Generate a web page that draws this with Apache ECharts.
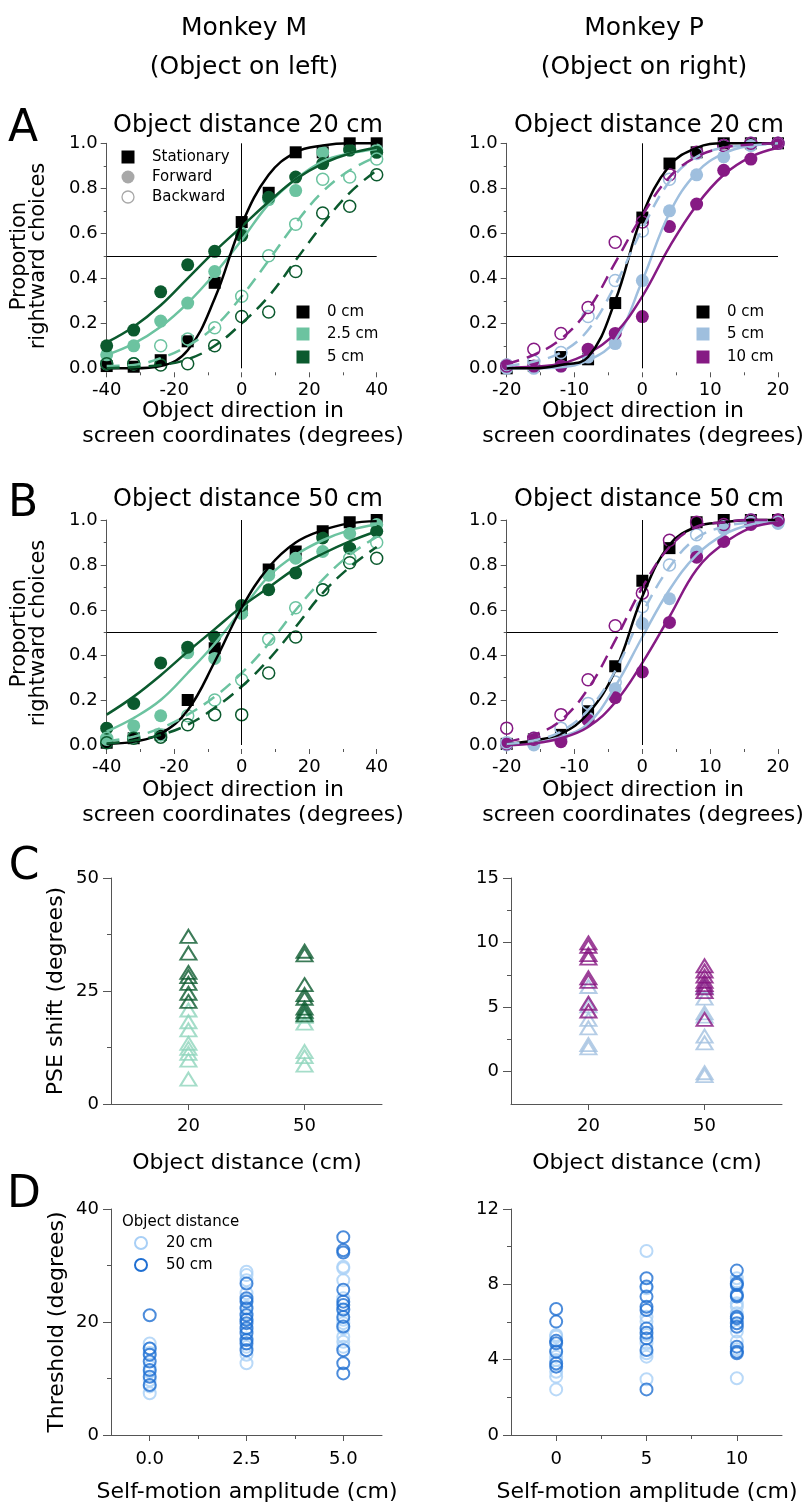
<!DOCTYPE html>
<html><head><meta charset="utf-8">
<script src="https://cdn.jsdelivr.net/npm/echarts@6/dist/echarts.min.js"></script>
<style>html,body{margin:0;padding:0;background:#fff}#c{width:809px;height:1507px}</style>
</head><body><div id="c"></div>
<script>
// ---------- DATA ----------
const xL = [-40,-32,-24,-16,-8,0,8,16,24,32,40];
const xR = [-20,-16,-12,-8,-4,0,4,8,12,16,20];

// Panel A, Monkey M (20 cm)
const aL_stat      = [0.01,0.007,0.036,0.12,0.38,0.65,0.78,0.96,0.96,1.0,1.0];
const aL_statFit   = [0.0,0.0,0.01,0.08,0.31,0.64,0.86,0.96,0.99,1.0,1.0];
const aL_f1        = [0.06,0.10,0.21,0.29,0.43,0.60,0.75,0.79,0.96,0.97,0.97];
const aL_f1Fit     = [0.06,0.11,0.185,0.29,0.42,0.57,0.73,0.84,0.92,0.955,0.975];
const aL_f2        = [0.10,0.17,0.34,0.46,0.52,0.59,0.76,0.85,0.91,0.97,0.96];
const aL_f2Fit     = [0.115,0.185,0.28,0.40,0.52,0.63,0.74,0.84,0.91,0.955,0.98];
const aL_b1        = [0.02,0.02,0.10,0.13,0.18,0.32,0.50,0.64,0.84,0.85,0.93];
const aL_b1Fit     = [0.01,0.015,0.045,0.10,0.185,0.32,0.48,0.645,0.785,0.88,0.94];
const aL_b2        = [0.02,0.02,0.015,0.02,0.10,0.23,0.25,0.43,0.69,0.72,0.86];
const aL_b2Fit     = [0.0,0.005,0.015,0.04,0.10,0.20,0.32,0.48,0.64,0.78,0.88];

// Panel A, Monkey P (20 cm)
const aR_stat      = [0.0,0.01,0.05,0.04,0.29,0.67,0.91,0.96,1.0,1.0,1.0];
const aR_statFit   = [0.0,0.0,0.015,0.05,0.30,0.68,0.90,0.98,1.0,1.0,1.0];
const aR_f1        = [0.0,0.0,0.01,0.05,0.11,0.39,0.70,0.86,0.94,0.99,1.0];
const aR_f1Fit     = [0.0,0.0,0.005,0.035,0.125,0.39,0.69,0.87,0.955,0.99,1.0];
const aR_f2        = [0.015,0.01,0.01,0.085,0.155,0.23,0.63,0.73,0.88,0.93,1.0];
const aR_f2Fit     = [0.003,0.007,0.02,0.067,0.155,0.32,0.54,0.725,0.86,0.94,0.98];
const aR_b1        = [0.015,0.03,0.07,0.23,0.39,0.61,0.84,0.955,0.99,1.0,1.0];
const aR_b1Fit     = [0.01,0.03,0.07,0.17,0.37,0.62,0.83,0.94,0.98,0.99,1.0];
const aR_b2        = [0.01,0.085,0.155,0.27,0.56,0.65,0.86,0.96,0.99,1.0,1.0];
const aR_b2Fit     = [0.02,0.06,0.13,0.26,0.47,0.68,0.85,0.94,0.98,0.995,1.0];

// Panel B, Monkey M (50 cm)
const bL_stat      = [0.01,0.03,0.045,0.20,0.43,0.60,0.78,0.86,0.95,0.99,1.0];
const bL_statFit   = [0.005,0.015,0.05,0.155,0.37,0.61,0.79,0.90,0.955,0.985,0.995];
const bL_f1        = [0.025,0.085,0.13,0.41,0.385,0.585,0.755,0.83,0.86,0.94,0.98];
const bL_f1Fit     = [0.06,0.12,0.20,0.32,0.45,0.60,0.75,0.845,0.91,0.955,0.98];
const bL_f2        = [0.075,0.185,0.365,0.435,0.48,0.62,0.69,0.765,0.92,0.875,0.95];
const bL_f2Fit     = [0.135,0.215,0.31,0.415,0.515,0.615,0.70,0.785,0.85,0.905,0.95];
const bL_b1        = [0.03,0.035,0.045,0.13,0.20,0.29,0.47,0.61,0.69,0.83,0.90];
const bL_b1Fit     = [0.015,0.037,0.075,0.135,0.215,0.32,0.45,0.60,0.735,0.845,0.925];
const bL_b2        = [0.01,0.03,0.035,0.09,0.135,0.135,0.32,0.48,0.69,0.81,0.83];
const bL_b2Fit     = [0.007,0.02,0.045,0.09,0.165,0.26,0.38,0.525,0.675,0.79,0.88];

// Panel B, Monkey P (50 cm)
const bR_stat      = [0.005,0.025,0.045,0.15,0.35,0.73,0.875,0.99,1.0,1.0,1.0];
const bR_statFit   = [0.005,0.02,0.05,0.14,0.33,0.66,0.89,0.97,0.99,1.0,1.0];
const bR_f1        = [0.0,0.0,0.03,0.12,0.25,0.54,0.65,0.86,0.96,0.99,0.985];
const bR_f1Fit     = [0.0,0.01,0.035,0.095,0.26,0.48,0.69,0.845,0.935,0.98,0.995];
const bR_f2        = [0.005,0.025,0.015,0.11,0.21,0.325,0.545,0.835,0.905,0.98,1.0];
const bR_f2Fit     = [0.0,0.007,0.03,0.08,0.19,0.365,0.57,0.78,0.895,0.965,0.99];
const bR_b1        = [0.01,0.03,0.075,0.185,0.28,0.615,0.80,0.935,0.97,1.0,0.99];
const bR_b1Fit     = [0.005,0.02,0.06,0.155,0.33,0.585,0.79,0.92,0.97,0.99,1.0];
const bR_b2        = [0.075,0.03,0.135,0.29,0.53,0.675,0.91,0.99,0.98,1.0,1.0];
const bR_b2Fit     = [0.015,0.045,0.11,0.25,0.465,0.70,0.88,0.97,0.99,1.0,1.0];

// Panel C: PSE shift (degrees)
const cL_20_light = [20.8,18.2,16.4,13.4,12.3,11.2,9.7,5.5];
const cL_20_dark  = [37.1,33.4,29.1,28.2,26.7,24.5,22.7];
const cL_50_light = [20.1,19.4,17.9,11.6,10.5,8.6];
const cL_50_dark  = [33.8,33.0,26.4,24.2,23.4,21.2,20.5,19.7];
const cR_20_light = [6.6,5.1,4.05,3.4,2.1,1.85];
const cR_20_dark  = [9.97,9.7,9.07,8.8,7.27,7.0,5.3,4.7];
const cR_50_light = [6.6,5.7,4.56,4.3,2.76,2.24,-0.08,-0.3];
const cR_50_dark  = [8.2,7.8,7.4,7.0,6.75,6.5,6.2,4.05];

// Panel D: Threshold (degrees)
const dL_0_light  = [16.2,15.3,14.5,12.1,11.2,9.7,8.6,7.4];
const dL_0_dark   = [21.2,15.3,14.2,13.0,11.5,10.3,8.85];
const dL_25_light = [28.9,28.3,27.4,25.1,23.9,22.7,21.5,20.4,18.6,17.1,15.6,14.2,12.7];
const dL_25_dark  = [26.8,24.2,23.6,22.4,21.2,20.4,19.8,18.9,18.0,16.8,16.2,15.0];
const dL_5_light  = [29.8,29.5,27.4,24.2,22.1,20.4,19.8,18.9,17.4,16.5,15.6];
const dL_5_dark   = [35.0,32.7,32.3,25.7,23.6,23.0,22.2,20.9,19.2,15.0,12.7,10.9];
const dR_0_light  = [5.31,5.22,4.51,4.16,3.98,3.36,3.1,2.42];
const dR_0_dark   = [6.69,6.02,5.0,4.87,4.42,3.8,3.63];
const dR_5_light  = [9.77,7.79,6.28,6.02,5.31,4.87,4.34,4.16,2.96];
const dR_5_dark   = [8.32,7.88,7.35,6.81,6.64,5.66,5.43,5.13,4.51,2.42];
const dR_10_light = [8.32,8.14,7.52,6.99,6.81,6.46,5.49,4.96,4.55,3.01];
const dR_10_dark  = [8.73,8.05,7.96,7.43,7.35,6.28,6.19,5.93,5.75,4.69,4.42,4.34];

// Tick values
const cCats = [20,50];
const cRLabels = [0,5,10,15];
const cRMinor = [2.5,7.5,12.5];
const dLCats = [0,2.5,5];
const dLMinor = [1.25,3.75];
const dRCats = [0,5,10];
const dRMinor = [2.5,7.5];

// ---------- STYLE ----------
const F = 'DejaVu Sans';
const AX = '#555';
const C_BLACK='#000000', C_LG='#6cc3a0', C_DG='#0b5a2e', C_LB='#9fbfde', C_PU='#861a84';
const C_TLG='#8fd5bc', C_TDG='#0b5a2e', C_TLB='#a3c1e0', C_TPU='#85137f';
const C_DL='#a8cff6', C_DD='#1f6fd2';

const grids = [
  {left:106.7, top:143.3, width:270,   height:225},
  {left:506.7, top:143.3, width:271.3, height:225},
  {left:106.7, top:520,   width:270,   height:225},
  {left:506.7, top:520,   width:271.3, height:225},
  {left:111, top:878,  width:271, height:226},
  {left:511, top:878,  width:271, height:226},
  {left:111, top:1209, width:271, height:226},
  {left:511, top:1209, width:271, height:226}
];

const lbl = (extra) => Object.assign({fontSize:18, fontFamily:F, color:'#000'}, extra||{});
const xAxis = [], yAxis = [], series = [];

function psychX(g, min, max, interval){
  xAxis.push({gridIndex:g, type:'value', min, max, interval, offset:4,
    axisLine:{show:false, onZero:false}, axisTick:{show:true, length:5, lineStyle:{color:AX}},
    minorTick:{show:true, splitNumber:2, length:3, lineStyle:{color:AX}},
    axisLabel:lbl({margin:9}), splitLine:{show:false}, minorSplitLine:{show:false}});
}
function psychY(g){
  yAxis.push({gridIndex:g, type:'value', min:0, max:1, interval:0.2,
    axisLine:{show:true, onZero:false, lineStyle:{color:AX}}, axisTick:{show:true, length:6, lineStyle:{color:AX}},
    minorTick:{show:true, splitNumber:2, length:3, lineStyle:{color:AX}},
    axisLabel:lbl({margin:9, formatter:v=>v.toFixed(1)}), splitLine:{show:false}, minorSplitLine:{show:false}});
}
psychX(0,-40,40,20); psychX(1,-20,20,10); psychX(2,-40,40,20); psychX(3,-20,20,10);
[0,1,2,3].forEach(psychY);

function catX(g, min, max, cats, fmt, margin){
  xAxis.push({gridIndex:g, type:'value', min, max, position:'bottom',
    axisLine:{show:true, onZero:false, lineStyle:{color:AX}},
    axisTick:{show:true, length:6, customValues:cats, lineStyle:{color:AX}},
    axisLabel:lbl({margin:margin, customValues:cats, formatter:fmt}), splitLine:{show:false}});
}
catX(4,0,70,cCats,undefined,13); catX(5,0,70,cCats,undefined,13);
catX(6,-1,6,dLCats,v=>v.toFixed(1),15); catX(7,-2.5,12.5,dRCats,undefined,15);
function valY(g,min,max,interval){
  yAxis.push({gridIndex:g, type:'value', min, max, interval, position:'left',
    axisLine:{show:true, onZero:false, lineStyle:{color:AX}}, axisTick:{show:true, length:8, lineStyle:{color:AX}},
    minorTick:{show:true, splitNumber:2, length:4, lineStyle:{color:AX}},
    axisLabel:lbl({margin:12}), splitLine:{show:false}, minorSplitLine:{show:false}});
}
valY(4,0,50,25);
yAxis.push({gridIndex:5, type:'value', min:-2.5, max:15, position:'left',
  axisLine:{show:true, onZero:false, lineStyle:{color:AX}},
  axisTick:{show:true, length:8, customValues:cRLabels, lineStyle:{color:AX}},
  axisLabel:lbl({margin:12, customValues:cRLabels}), splitLine:{show:false}});
valY(6,0,40,20); valY(7,0,12,4);
// minor tick helper axes
yAxis.push({gridIndex:5, type:'value', min:-2.5, max:15, position:'left',
  axisLine:{show:false, onZero:false}, axisLabel:{show:false}, splitLine:{show:false},
  axisTick:{show:true, length:4, customValues:cRMinor, lineStyle:{color:AX}}});
xAxis.push({gridIndex:6, type:'value', min:-1, max:6, position:'bottom',
  axisLine:{show:false, onZero:false}, axisLabel:{show:false}, splitLine:{show:false},
  axisTick:{show:true, length:4, customValues:dLMinor, lineStyle:{color:AX}}});
xAxis.push({gridIndex:7, type:'value', min:-2.5, max:12.5, position:'bottom',
  axisLine:{show:false, onZero:false}, axisLabel:{show:false}, splitLine:{show:false},
  axisTick:{show:true, length:4, customValues:dRMinor, lineStyle:{color:AX}}});

// ---------- SERIES ----------
const refLines = {silent:true, symbol:['none','none'], label:{show:false}, animation:false,
  lineStyle:{color:'#000', width:1, type:'solid'}, emphasis:{disabled:true},
  data:[{xAxis:0},{yAxis:0.5}]};

function scat(g, data, symbol, size, color, filled, extra){
  return Object.assign({type:'scatter', xAxisIndex:g, yAxisIndex:g, data, symbol, symbolSize:size,
    clip:false, silent:true, animation:false,
    itemStyle: filled ? {color, opacity:1} : {color:'rgba(0,0,0,0)', borderColor:color, borderWidth:1.5, opacity:1}}, extra||{});
}
function fit(g, data, color, dashed){
  return {type:'line', xAxisIndex:g, yAxisIndex:g, data, smooth:0.4, showSymbol:false,
    symbol:'none', clip:false, silent:true, animation:false,
    lineStyle:{color, width:2.5, type: dashed ? [13,8] : 'solid'}};
}
function psychPanel(g, xs, d, c1, c2){
  const P = arr => xs.map((x,i)=>[x, arr[i]]);
  series.push(scat(g, P(d.stat), 'rect', 12, C_BLACK, true, {markLine:refLines}));
  series.push(scat(g, P(d.f1), 'circle', 13, c1, true));
  series.push(scat(g, P(d.f2), 'circle', 13, c2, true));
  series.push(scat(g, P(d.b1), 'circle', 12, c1, false));
  series.push(scat(g, P(d.b2), 'circle', 12, c2, false));
  series.push(fit(g, P(d.f1Fit), c1, false));
  series.push(fit(g, P(d.f2Fit), c2, false));
  series.push(fit(g, P(d.statFit), C_BLACK, false));
  series.push(fit(g, P(d.b1Fit), c1, true));
  series.push(fit(g, P(d.b2Fit), c2, true));
}
psychPanel(0, xL, {stat:aL_stat,statFit:aL_statFit,f1:aL_f1,f1Fit:aL_f1Fit,f2:aL_f2,f2Fit:aL_f2Fit,b1:aL_b1,b1Fit:aL_b1Fit,b2:aL_b2,b2Fit:aL_b2Fit}, C_LG, C_DG);
psychPanel(1, xR, {stat:aR_stat,statFit:aR_statFit,f1:aR_f1,f1Fit:aR_f1Fit,f2:aR_f2,f2Fit:aR_f2Fit,b1:aR_b1,b1Fit:aR_b1Fit,b2:aR_b2,b2Fit:aR_b2Fit}, C_LB, C_PU);
psychPanel(2, xL, {stat:bL_stat,statFit:bL_statFit,f1:bL_f1,f1Fit:bL_f1Fit,f2:bL_f2,f2Fit:bL_f2Fit,b1:bL_b1,b1Fit:bL_b1Fit,b2:bL_b2,b2Fit:bL_b2Fit}, C_LG, C_DG);
psychPanel(3, xR, {stat:bR_stat,statFit:bR_statFit,f1:bR_f1,f1Fit:bR_f1Fit,f2:bR_f2,f2Fit:bR_f2Fit,b1:bR_b1,b1Fit:bR_b1Fit,b2:bR_b2,b2Fit:bR_b2Fit}, C_LB, C_PU);

const at = (x, arr) => arr.map(v => [x, v]);
function tri(g, data, color){ return scat(g, data, 'triangle', [16,13], color, false, {itemStyle:{color:'rgba(0,0,0,0)', borderColor:color, borderWidth:2}}); }
series.push(tri(4, at(20,cL_20_light), C_TLG), tri(4, at(50,cL_50_light), C_TLG),
            tri(4, at(20,cL_20_dark), C_TDG),  tri(4, at(50,cL_50_dark), C_TDG));
series.push(tri(5, at(20,cR_20_light), C_TLB), tri(5, at(50,cR_50_light), C_TLB),
            tri(5, at(20,cR_20_dark), C_TPU),  tri(5, at(50,cR_50_dark), C_TPU));
function ring(g, data, color){ return scat(g, data, 'circle', 12, color, false, {itemStyle:{color:'rgba(0,0,0,0)', borderColor:color, borderWidth:2}}); }
series.push(ring(6, at(0,dL_0_light), C_DL), ring(6, at(2.5,dL_25_light), C_DL), ring(6, at(5,dL_5_light), C_DL),
            ring(6, at(0,dL_0_dark), C_DD),  ring(6, at(2.5,dL_25_dark), C_DD),  ring(6, at(5,dL_5_dark), C_DD));
series.push(ring(7, at(0,dR_0_light), C_DL), ring(7, at(5,dR_5_light), C_DL), ring(7, at(10,dR_10_light), C_DL),
            ring(7, at(0,dR_0_dark), C_DD),  ring(7, at(5,dR_5_dark), C_DD),  ring(7, at(10,dR_10_dark), C_DD));

// ---------- TEXT & LEGENDS ----------
function T(x, y, text, size, o){
  o = o || {};
  return {type:'text', x, y, rotation:o.rot||0, silent:true,
    style:{text, fontSize:size, fontFamily:F, fill:o.fill||'#000', align:o.align||'center',
      verticalAlign:'middle', lineHeight:o.lh||Math.round(size*1.15)}};
}
const R90 = Math.PI/2;
const graphic = [
  T(244,28,'Monkey M',25), T(244,67,'(Object on left)',25),
  T(644,28,'Monkey P',25), T(644,67,'(Object on right)',25),
  T(23,130,'A',44), T(23,505,'B',44), T(24,868,'C',44), T(24,1196,'D',44),
  T(248,126,'Object distance 20 cm',24), T(649,126,'Object distance 20 cm',24),
  T(248,500,'Object distance 50 cm',24), T(649,500,'Object distance 50 cm',24),
  T(29,256,'Proportion\nrightward choices',21,{rot:R90, lh:19}),
  T(29,633,'Proportion\nrightward choices',21,{rot:R90, lh:19}),
  T(56,991,'PSE shift (degrees)',22,{rot:R90}),
  T(57,1322,'Threshold (degrees)',22,{rot:R90}),
  T(243,411,'Object direction in',22), T(243,436,'screen coordinates (degrees)',22),
  T(643,411,'Object direction in',22), T(643,436,'screen coordinates (degrees)',22),
  T(243,790,'Object direction in',22), T(243,815,'screen coordinates (degrees)',22),
  T(643,790,'Object direction in',22), T(643,815,'screen coordinates (degrees)',22),
  T(247,1163,'Object distance (cm)',22), T(647,1163,'Object distance (cm)',22),
  T(247,1492,'Self-motion amplitude (cm)',22), T(647,1492,'Self-motion amplitude (cm)',22),
  {type:'rect', x:128, y:157, shape:{x:-6.5,y:-6.5,width:13,height:13}, style:{fill:'#000'}, silent:true},
  {type:'circle', x:128, y:177, shape:{cx:0,cy:0,r:6.5}, style:{fill:'#a8a8a8'}, silent:true},
  {type:'circle', x:128, y:197, shape:{cx:0,cy:0,r:6}, style:{fill:'none', stroke:'#a8a8a8', lineWidth:1.3}, silent:true},
  T(152,157,'Stationary',15,{align:'left'}), T(152,177,'Forward',15,{align:'left'}), T(152,197,'Backward',15,{align:'left'}),
  {type:'rect', x:303, y:312, shape:{x:-6.5,y:-6.5,width:13,height:13}, style:{fill:C_BLACK}, silent:true},
  {type:'rect', x:303, y:334, shape:{x:-6.5,y:-6.5,width:13,height:13}, style:{fill:C_LG}, silent:true},
  {type:'rect', x:303, y:357, shape:{x:-6.5,y:-6.5,width:13,height:13}, style:{fill:C_DG}, silent:true},
  T(327,312,'0 cm',15,{align:'left'}), T(327,334,'2.5 cm',15,{align:'left'}), T(327,357,'5 cm',15,{align:'left'}),
  {type:'rect', x:703, y:312, shape:{x:-6.5,y:-6.5,width:13,height:13}, style:{fill:C_BLACK}, silent:true},
  {type:'rect', x:703, y:334, shape:{x:-6.5,y:-6.5,width:13,height:13}, style:{fill:C_LB}, silent:true},
  {type:'rect', x:703, y:357, shape:{x:-6.5,y:-6.5,width:13,height:13}, style:{fill:C_PU}, silent:true},
  T(727,312,'0 cm',15,{align:'left'}), T(727,334,'5 cm',15,{align:'left'}), T(727,357,'10 cm',15,{align:'left'}),
  T(122,1222,'Object distance',15,{align:'left'}),
  {type:'circle', x:141, y:1243, shape:{cx:0,cy:0,r:6}, style:{fill:'none', stroke:C_DL, lineWidth:2}, silent:true},
  {type:'circle', x:141, y:1265, shape:{cx:0,cy:0,r:6}, style:{fill:'none', stroke:C_DD, lineWidth:2}, silent:true},
  T(166,1243,'20 cm',15,{align:'left'}), T(166,1265,'50 cm',15,{align:'left'})
];

const chart = echarts.init(document.getElementById('c'), null, {renderer:'canvas'});
chart.setOption({animation:false, backgroundColor:'#fff', grid:grids, xAxis, yAxis, series, graphic});
</script></body></html>
